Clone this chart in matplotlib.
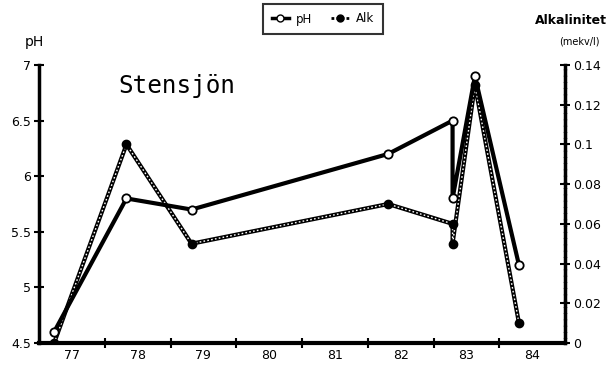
import matplotlib
matplotlib.use("Agg")
import matplotlib.pyplot as plt
from matplotlib.lines import Line2D

# Data
years = [77.23, 78.33, 79.32, 82.31, 83.29, 83.29, 83.63, 84.30]
ph = [4.6, 5.8, 5.7, 6.2, 6.5, 5.8, 6.9, 5.2]
alk_x = [77.23, 78.33, 79.32, 82.31, 83.29, 83.29, 83.63, 84.30]
alk = [0.0, 0.10, 0.05, 0.07, 0.06, 0.05, 0.13, 0.01]

year_labels = ["77", "78", "79", "80", "81", "82", "83", "84"]
ph_ticks = [4.5, 5, 5.5, 6, 6.5, 7]
ph_tick_labels = ["4.5", "5", "5.5", "6", "6.5", "7"]
alk_ticks = [0, 0.02, 0.04, 0.06, 0.08, 0.1, 0.12, 0.14]
alk_tick_labels = ["0", "0.02", "0.04", "0.06", "0.08", "0.1", "0.12", "0.14"]

fig = plt.figure(figsize=(6.12, 3.65), dpi=100)
ax = fig.add_axes([39/612, 1-343/365, (565-39)/612, (343-65)/365])
ax2 = ax.twinx()

# Alk series: chain-like dotted line
ax2.plot(alk_x, alk, color="black", lw=3.0, zorder=2, solid_capstyle="round")
ax2.plot(alk_x, alk, color="white", lw=1.0, ls=(0, (1.2, 1.6)), zorder=3)
ax2.plot(alk_x, alk, ls="none", marker="o", ms=6, mfc="black", mec="black", zorder=4)

# pH series: thick solid line with open circles
ax.plot(years, ph, color="black", lw=3.0, zorder=5)
ax.plot(years, ph, ls="none", marker="o", ms=6, mfc="white", mec="black", mew=1.3, zorder=6)

ax.set_zorder(ax2.get_zorder() + 1)
ax.patch.set_visible(False)

ax.set_xlim(77, 85)
ax.set_ylim(4.5, 7)
ax2.set_ylim(0, 0.14)

ax.set_xticks([78, 79, 80, 81, 82, 83, 84])
ax.set_xticklabels([])
ax.set_xticks([y + 0.5 for y in range(77, 85)], minor=True)
ax.set_xticklabels(year_labels, minor=True, fontsize=9)
ax.tick_params(axis="x", which="major", direction="inout", length=7, width=1.5)
ax.tick_params(axis="x", which="minor", length=0, pad=4)

ax.set_yticks(ph_ticks)
ax.set_yticklabels(ph_tick_labels, fontsize=9)
ax.tick_params(axis="y", direction="inout", length=7, width=1.5, pad=2)

ax2.set_yticks(alk_ticks)
ax2.set_yticklabels(alk_tick_labels, fontsize=9)
ax2.tick_params(axis="y", direction="inout", length=7, width=1.5, pad=2)

for a in (ax, ax2):
    a.spines["top"].set_visible(False)
ax.spines["right"].set_visible(False)
ax2.spines["left"].set_visible(False)
ax2.spines["bottom"].set_visible(False)
ax.spines["left"].set_linewidth(2.5)
ax.spines["bottom"].set_linewidth(3)
ax2.spines["right"].set_linewidth(2.5)
ax2.spines["right"].set_linestyle((0, (1, 0.8)))

ax.text((177-39)/526, (343-86)/278, "Stensjön", transform=ax.transAxes, fontsize=17.5,
        family="DejaVu Sans Mono", ha="center", va="center")

fig.text(34/612, 1-42/365, "pH", fontsize=10, ha="center", va="center")
fig.text(571/612, 1-20/365, "Alkalinitet", fontsize=9, fontweight="bold",
         ha="center", va="center")
fig.text(579/612, 1-42/365, "(mekv/l)", fontsize=7, ha="center", va="center")

handles = [
    Line2D([], [], color="black", lw=2.5, marker="o", mfc="white", mec="black", ms=5),
    Line2D([], [], color="black", lw=2, ls=(0, (1, 0.8)), marker="o", mfc="black", mec="black", ms=5),
]
leg = fig.legend(handles, ["pH", "Alk"], loc="center", bbox_to_anchor=(323/612, 1-19/365),
                 ncol=2, fontsize=8.5, frameon=True, fancybox=False, handlelength=1.5,
                 handletextpad=0.6, columnspacing=1.6, borderpad=0.7)
leg.get_frame().set_edgecolor("black")
leg.get_frame().set_linewidth(1.5)

fig.savefig("out.png", dpi=100)
